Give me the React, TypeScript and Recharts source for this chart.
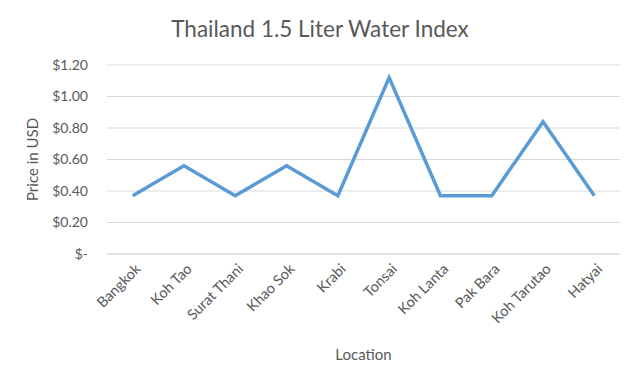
import { LineChart, Line, XAxis, YAxis, CartesianGrid } from "recharts"

const locations = ["Bangkok", "Koh Tao", "Surat Thani", "Khao Sok", "Krabi", "Tonsai", "Koh Lanta", "Pak Bara", "Koh Tarutao", "Hatyai"]
const prices = [0.37, 0.56, 0.37, 0.56, 0.37, 1.12, 0.37, 0.37, 0.84, 0.37]
const yTicks = [0, 0.2, 0.4, 0.6, 0.8, 1.0, 1.2]

const data = locations.map((location, i) => ({ location, price: prices[i] }))

const FONT = "Lato, 'Open Sans', sans-serif"
const GRAY = "#595959"

// rotated category labels, anchored at their end like Excel does
const XTick = (props: any) => {
  const { x, y, payload } = props
  return (
    <text
      x={x + 5}
      y={y + 4}
      transform={`rotate(-45, ${x + 5}, ${y + 4})`}
      textAnchor="end"
      dominantBaseline="central"
      fontSize={14.5}
      fontFamily={FONT}
      fill={GRAY}
    >
      {payload.value}
    </text>
  )
}

const formatPrice = (v: number) => (v === 0 ? "$-" : `$${v.toFixed(2)}`)

export default function App() {
  return (
    <div style={{ position: "absolute", left: 0, top: 0, width: 640, height: 384, background: "#fff", fontFamily: FONT }}>
      <div
        style={{
          position: "absolute",
          left: 0,
          top: 15,
          width: 640,
          textAlign: "center",
          fontSize: 22.5,
          color: GRAY,
        }}
      >
        Thailand 1.5 Liter Water Index
      </div>
      <LineChart width={640} height={384} data={data} margin={{ top: 65, right: 20, left: 0, bottom: 50 }}>
        <CartesianGrid vertical={false} stroke="#d9d9d9" strokeWidth={1} />
        <XAxis
          dataKey="location"
          scale="band"
          interval={0}
          height={80}
          tick={<XTick />}
          tickLine={false}
          axisLine={{ stroke: "#d9d9d9" }}
          label={{ value: "Location", position: "insideBottom", offset: -26, fontSize: 15, fill: GRAY, fontFamily: FONT }}
        />
        <YAxis
          width={107}
          domain={[0, 1.2]}
          ticks={yTicks}
          tickFormatter={formatPrice}
          tickLine={false}
          axisLine={false}
          tickSize={0}
          tickMargin={19}
          tick={{ fontSize: 14, fill: GRAY, fontFamily: FONT }}
          label={{ value: "Price in USD", angle: -90, position: "insideLeft", offset: 33, fontSize: 15, fill: GRAY, fontFamily: FONT, style: { textAnchor: "middle" } }}
        />
        <Line
          type="linear"
          dataKey="price"
          stroke="#5B9BD5"
          strokeWidth={3.5}
          dot={false}
          isAnimationActive={false}
        />
      </LineChart>
    </div>
  )
}
